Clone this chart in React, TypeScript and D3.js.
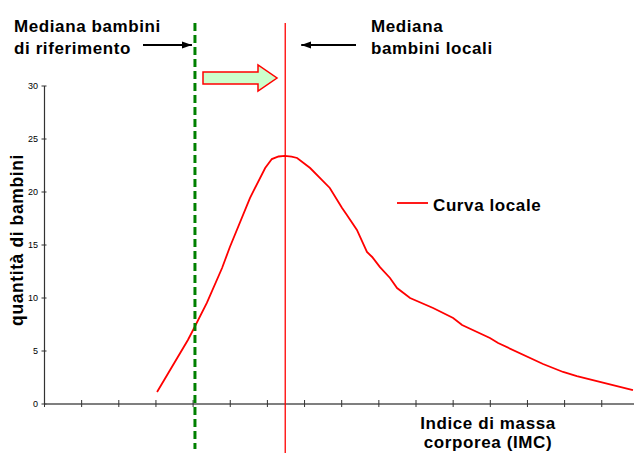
import React from "react";
import * as d3 from "d3";

const curveX = [3.03, 3.86, 4.0, 4.37, 4.78, 4.99, 5.53, 5.94, 6.12, 6.3, 6.47, 6.65, 6.8, 7.01, 7.15, 7.68, 8.01, 8.14, 8.41, 8.68, 8.82, 9.03, 9.3, 9.49, 9.84, 10.46, 11.0, 11.24, 11.99, 12.21, 13.42, 13.96, 14.33, 15.84];
const curveY = [1.13, 6.04, 6.98, 9.53, 12.83, 14.81, 19.43, 22.26, 23.11, 23.35, 23.4, 23.33, 23.21, 22.64, 22.26, 20.38, 18.49, 17.83, 16.42, 14.34, 13.87, 12.92, 11.89, 10.94, 10.0, 9.06, 8.11, 7.45, 6.23, 5.75, 3.77, 3.02, 2.64, 1.32];
const yTicks = [0, 5, 10, 15, 20, 25, 30];
const xTicks = d3.range(0, 16);
const medianRef = 4.05;
const medianLocal = 6.48;
const refLabel = ["Mediana bambini", "di riferimento"];
const localLabel = ["Mediana", "bambini locali"];
const xLabel = ["Indice di massa", "corporea (IMC)"];
const yLabel = "quantità di bambini";
const legendLabel = "Curva locale";

export default function App() {
  const W = 634;
  const H = 453;
  const x = d3.scaleLinear().domain([0, 16]).range([44.5, 638.9]);
  const y = d3.scaleLinear().domain([0, 30]).range([404, 86]);
  const pts: [number, number][] = curveX.map((v, i) => [v, curveY[i]]);
  const line = d3
    .line<[number, number]>()
    .x((d) => x(d[0]))
    .y((d) => y(d[1]));
  const font = "Arial, 'Liberation Sans', sans-serif";
  const bold = { fontFamily: font, fontWeight: 700, fontSize: 17, letterSpacing: 0.6 } as const;
  const xr = x(medianRef);
  const xl = x(medianLocal);
  const arrowY = 45;
  const bx0 = 203, bx1 = 258, bx2 = 277, by = 78;
  const blockPath = `M${bx0},${by - 6} L${bx1},${by - 6} L${bx1},${by - 13} L${bx2},${by} L${bx1},${by + 13} L${bx1},${by + 6} L${bx0},${by + 6} Z`;
  return (
    <svg
      width={W}
      height={H}
      style={{ position: "absolute", left: 0, top: 0, background: "#fff" }}
    >
      <defs>
        <marker id="ah" viewBox="0 0 10 10" refX="10" refY="5" markerWidth="5" markerHeight="5" orient="auto-start-reverse">
          <path d="M0,1.5 L10,5 L0,8.5 Z" fill="#000" />
        </marker>
      </defs>
      <line x1={x(0)} x2={x(0)} y1={y(0)} y2={y(30)} stroke="#333" strokeWidth={1.2} />
      {yTicks.map((t) => (
        <g key={t}>
          <line x1={x(0) - 3} x2={x(0) + 2} y1={y(t)} y2={y(t)} stroke="#333" strokeWidth={1} />
          <text x={38} y={y(t) + 3} textAnchor="end" fontFamily={font} fontSize={9} fill="#000">
            {t}
          </text>
        </g>
      ))}
      <line x1={x(0)} x2={W} y1={y(0)} y2={y(0)} stroke="#555" strokeWidth={1.5} />
      {xTicks.map((t) => (
        <line key={t} x1={x(t)} x2={x(t)} y1={y(0) - 4} y2={y(0) + 3} stroke="#333" strokeWidth={1} />
      ))}
      <path d={line(pts) || ""} fill="none" stroke="#ff0000" strokeWidth={1.8} />
      <line x1={xr} x2={xr} y1={23} y2={449} stroke="#008000" strokeWidth={3} strokeDasharray="8,4" />
      <line x1={xl} x2={xl} y1={23} y2={H} stroke="#ff0000" strokeWidth={1.3} />
      <line x1={143} x2={xr - 3} y1={arrowY} y2={arrowY} stroke="#000" strokeWidth={2} markerEnd="url(#ah)" />
      <line x1={356} x2={xl + 16} y1={arrowY} y2={arrowY} stroke="#000" strokeWidth={2} markerEnd="url(#ah)" />
      <path d={blockPath} fill="#ccffcc" stroke="#ff0000" strokeWidth={1.5} />
      <text x={14} y={32} {...bold}>{refLabel[0]}</text>
      <text x={14} y={54} {...bold}>{refLabel[1]}</text>
      <text x={371} y={32} {...bold}>{localLabel[0]}</text>
      <text x={371} y={54} {...bold}>{localLabel[1]}</text>
      <line x1={397} x2={428} y1={203} y2={203} stroke="#ff0000" strokeWidth={1.8} />
      <text x={433} y={211} {...bold}>{legendLabel}</text>
      <text x={488} y={429} textAnchor="middle" {...bold}>{xLabel[0]}</text>
      <text x={488} y={448} textAnchor="middle" {...bold}>{xLabel[1]}</text>
      <text transform={`translate(23,240) rotate(-90)`} textAnchor="middle" {...bold} fontSize={17.5}>
        {yLabel}
      </text>
    </svg>
  );
}
